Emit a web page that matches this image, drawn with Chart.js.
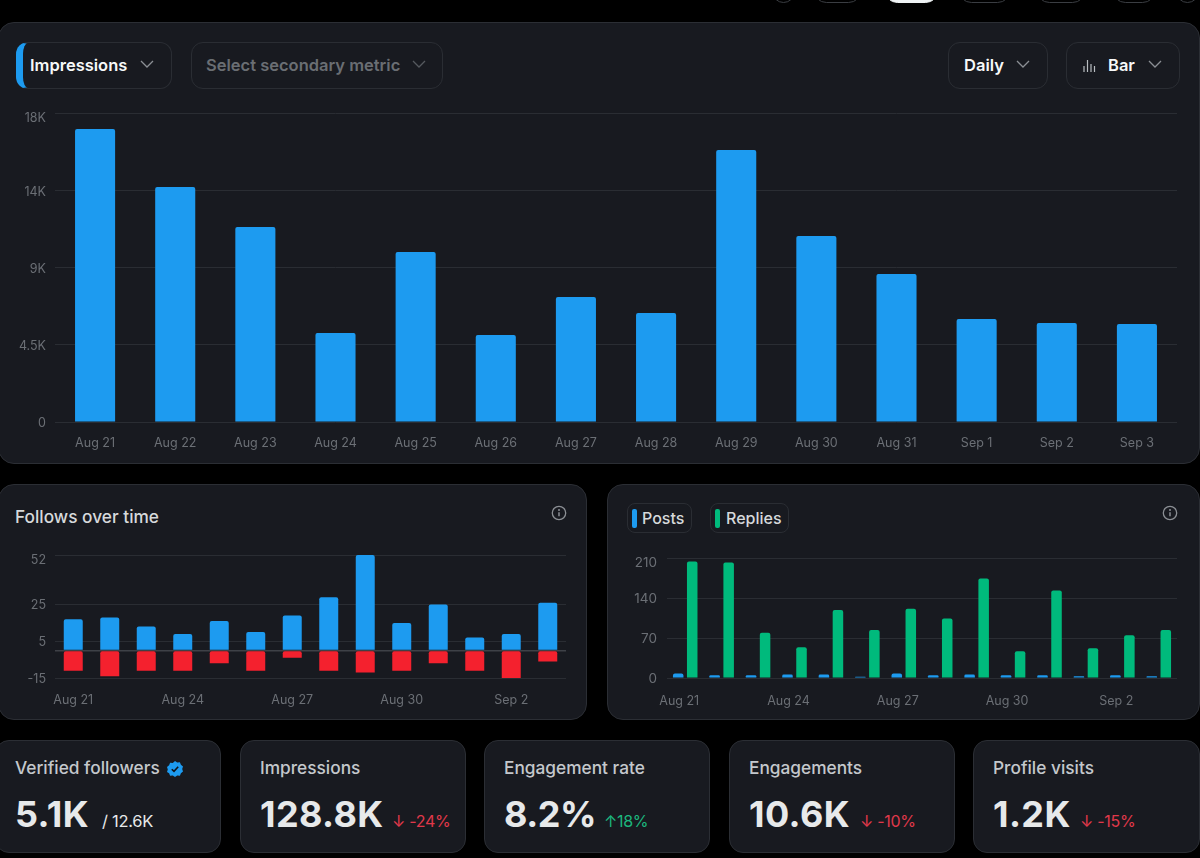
<!DOCTYPE html>
<html lang="en">
<head>
<meta charset="UTF-8">
<title>Account analytics</title>
<script src="https://cdn.jsdelivr.net/npm/chart.js@4"></script>
<style>
    html, body { margin: 0; padding: 0; background: #000; }
    body { width: 1200px; height: 858px; position: relative; overflow: hidden; font-family: Inter, sans-serif; color: #e7e9ea; }
    .panel { position: absolute; background: #181a20; border: 1px solid #2b2e34; box-sizing: border-box; border-radius: 16px; }
    .abs { position: absolute; }
    canvas { position: absolute; }
    .pill { position: absolute; top: -24px; height: 27px; border: 1px solid #3a3d42; border-radius: 14px; box-sizing: border-box; }
    .btn { position: absolute; top: 42px; height: 47px; box-sizing: border-box; border: 1px solid #2a2d33; border-radius: 12px; font-size: 16.5px; font-weight: 600; line-height: 45px; overflow: hidden; white-space: nowrap; }
    .btn span, .btn svg { position: absolute; }
    .chev { top: 17px; width: 14px; height: 9px; }
    .legend { position: absolute; top: 503px; height: 30px; box-sizing: border-box; border: 1px solid #2a2d33; border-radius: 8px; font-size: 16px; font-weight: 500; line-height: 28px; color: #d6d9db; }
    .legend i { position: absolute; left: 4px; top: 5px; width: 5px; height: 19px; border-radius: 2px; }
    .legend span { position: absolute; left: 14px; }
    .card { position: absolute; top: 740px; height: 113px; background: #181a20; border: 1px solid #2b2e34; box-sizing: border-box; border-radius: 14px; }
    .card .lbl { position: absolute; left: 19px; top: 16px; font-size: 17.3px; font-weight: 500; color: #c4c8cc; white-space: nowrap; }
    .card .val { position: absolute; left: 19px; top: 51px; font-size: 36px; font-weight: 700; letter-spacing: 0.4px; color: #e7e9ea; white-space: nowrap; }
    .card .delta { position: absolute; top: 70px; font-size: 16px; white-space: nowrap; letter-spacing: -0.3px; }
    .down { color: #e0384a; }
    .up { color: #1cb77e; }
</style>
</head>
<body>
<!-- cut off toolbar at the top edge -->
<div class="pill" style="left:772px;width:23px"></div>
<div class="pill" style="left:813px;width:49px"></div>
<div class="pill" style="left:884px;width:55px;background:#eff3f4;border-color:#eff3f4"></div>
<div class="pill" style="left:958px;width:53px"></div>
<div class="pill" style="left:1036px;width:50px"></div>
<div class="pill" style="left:1112px;width:44px"></div>
<div class="pill" style="left:1176px;width:23px"></div>

<div class="panel" style="left:-2px;top:22px;width:1202px;height:442px"></div>
<div class="panel" style="left:-2px;top:484px;width:589px;height:236px"></div>
<div class="panel" style="left:607px;top:484px;width:593px;height:236px"></div>

<canvas id="mainChart"></canvas>
<canvas id="followsChart"></canvas>
<canvas id="postsChart"></canvas>

<!-- Selectors -->
<div class="btn" style="left:16px;width:156px;color:#f7f9f9;border-left:7px solid #1d9bf0">
    <span style="left:7px">Impressions</span>
    <svg class="chev" style="left:117px" viewBox="0 0 14 9"><path d="M1 1l6 6 6-6" fill="none" stroke="#8b8f94" stroke-width="1.3"/></svg>
</div>
<div class="btn" style="left:191px;width:252px;color:#6a6e73">
    <span style="left:14px">Select secondary metric</span>
    <svg class="chev" style="left:220px" viewBox="0 0 14 9"><path d="M1 1l6 6 6-6" fill="none" stroke="#55595e" stroke-width="1.3"/></svg>
</div>
<div class="btn" style="left:948px;width:100px;color:#f7f9f9">
    <span style="left:15px">Daily</span>
    <svg class="chev" style="left:67px" viewBox="0 0 14 9"><path d="M1 1l6 6 6-6" fill="none" stroke="#8b8f94" stroke-width="1.3"/></svg>
</div>
<div class="btn" style="left:1066px;width:114px;color:#f7f9f9">
    <svg style="left:16px;top:16px;width:13px;height:14px" viewBox="0 0 13 14"><path d="M1 7v6M4.500 1v12M8 5v8M11.500 7v6" fill="none" stroke="#b8bcc0" stroke-width="1.200"/></svg>
    <span style="left:41px">Bar</span>
    <svg class="chev" style="left:81px" viewBox="0 0 14 9"><path d="M1 1l6 6 6-6" fill="none" stroke="#8b8f94" stroke-width="1.3"/></svg>
</div>

<!-- Small chart headers -->
<div class="abs" style="left:15px;top:506px;font-size:17.3px;font-weight:500;color:#d6d9db">Follows over time</div>
<svg class="abs" style="left:551px;top:505px" width="16" height="16" viewBox="0 0 16 16"><circle cx="8" cy="8" r="6.700" fill="none" stroke="#8b8f94" stroke-width="1.300"/><path d="M8 7.200v4" stroke="#8b8f94" stroke-width="1.500"/><circle cx="8" cy="5" r="1" fill="#8b8f94"/></svg>
<svg class="abs" style="left:1162px;top:505px" width="16" height="16" viewBox="0 0 16 16"><circle cx="8" cy="8" r="6.700" fill="none" stroke="#8b8f94" stroke-width="1.300"/><path d="M8 7.200v4" stroke="#8b8f94" stroke-width="1.500"/><circle cx="8" cy="5" r="1" fill="#8b8f94"/></svg>
<div class="legend" style="left:627px;width:65px"><i style="background:#1d9bf0"></i><span>Posts</span></div>
<div class="legend" style="left:710px;width:79px"><i style="background:#00ba7c"></i><span style="left:15px">Replies</span></div>

<!-- Stat cards -->
<div class="card" style="left:-5px;width:226px">
    <div class="lbl">Verified followers</div>
    <svg class="abs" style="left:170px;top:19px" width="18" height="18" viewBox="0 0 18 18"><path d="M9 1l2.200 1.500 2.700-.2 1 2.500 2.100 1.700-.8 2.500.8 2.500-2.100 1.700-1 2.500-2.700-.2L9 17l-2.200-1.500-2.700.2-1-2.500L1 12l.8-2.500L1 7l2.100-1.700 1-2.500 2.700.2z" fill="#1d9bf0"/><path d="M5.800 9.200l2.200 2.200 4.200-4.600" fill="none" stroke="#10141a" stroke-width="1.600"/></svg>
    <div class="val">5.1K</div>
    <div class="delta" style="left:106px;color:#e7e9ea;font-size:16.5px">/ 12.6K</div>
</div>
<div class="card" style="left:240px;width:226px">
    <div class="lbl">Impressions</div>
    <div class="val">128.8K</div>
    <div class="delta down" style="left:151px">↓ -24%</div>
</div>
<div class="card" style="left:484px;width:226px">
    <div class="lbl">Engagement rate</div>
    <div class="val" style="letter-spacing:-0.5px">8.2%</div>
    <div class="delta up" style="left:119px">↑18%</div>
</div>
<div class="card" style="left:729px;width:226px">
    <div class="lbl">Engagements</div>
    <div class="val">10.6K</div>
    <div class="delta down" style="left:130px">↓ -10%</div>
</div>
<div class="card" style="left:973px;width:227px">
    <div class="lbl">Profile visits</div>
    <div class="val">1.2K</div>
    <div class="delta down" style="left:106px">↓ -15%</div>
</div>

<script>
    const days = ['Aug 21', 'Aug 22', 'Aug 23', 'Aug 24', 'Aug 25', 'Aug 26', 'Aug 27', 'Aug 28', 'Aug 29', 'Aug 30', 'Aug 31', 'Sep 1', 'Sep 2', 'Sep 3'];
    const impressions = [17070, 13690, 11360, 5180, 9900, 5070, 7280, 6350, 15840, 10840, 8620, 6000, 5770, 5710];
    const impressionTicks = [0, 4500, 9000, 13500, 18000];
    const impressionTickLabels = ['0', '4.5K', '9K', '14K', '18K'];

    const followsGained = [17, 18, 13, 9, 16, 10, 19, 29, 52, 15, 25, 7, 9, 26];
    const followsLost = [-11, -14, -11, -11, -7, -11, -4, -11, -12, -11, -7, -11, -15, -6];
    const followTicks = [-15, 0, 5, 25, 52];

    const posts = [8, 5, 5, 6, 6, 2, 8, 5, 6, 5, 5, 3, 5, 3];
    const replies = [204, 202, 79, 54, 119, 84, 121, 104, 174, 47, 153, 52, 75, 84];
    const activityTicks = [0, 70, 140, 210];

    const BLUE = '#1d9bf0', GREEN = '#00ba7c', RED = '#f4212e';
    const GRID = '#2a2d33', ZERO = '#3e4147', TICK = '#6b6f75';

    // Places a canvas on the page and reserves exact room for the axes
    function place(id, box) {
        const el = document.getElementById(id);
        el.style.left = box.left + 'px';
        el.style.top = box.top + 'px';
        el.style.width = box.width + 'px';
        el.style.height = box.height + 'px';
        return el.getContext('2d');
    }

    function makeOptions(o) {
        return {
            responsive: false,
            animation: false,
            layout: { padding: { top: o.plotTop - o.box.top, right: o.box.left + o.box.width - o.plotRight, left: 0, bottom: 0 } },
            plugins: { legend: { display: false }, tooltip: { enabled: false } },
            scales: {
                x: {
                    stacked: !!o.stacked,
                    grid: { display: false },
                    border: { display: false },
                    afterFit: s => { s.height = o.box.top + o.box.height - o.plotBottom; s.paddingLeft = 0; s.paddingRight = 0; },
                    ticks: {
                        autoSkip: false, maxRotation: 0, color: TICK, padding: o.xPad, labelOffset: o.xOffset || 0,
                        font: { family: 'Inter', size: 12.5 },
                        callback: function (v, i) { return i % o.xEvery === 0 ? days[i] : ''; }
                    }
                },
                y: {
                    stacked: !!o.stacked,
                    min: o.min,
                    max: o.max,
                    afterBuildTicks: s => { s.ticks = o.ticks.map(v => ({ value: v })); },
                    afterFit: s => { s.width = o.plotLeft - o.box.left; s.paddingTop = 0; s.paddingBottom = 0; },
                    border: { display: false },
                    grid: {
                        drawTicks: false,
                        color: c => (c.tick && c.tick.value === 0 && o.zeroLine ? ZERO : GRID),
                        lineWidth: c => (c.tick && c.tick.value === 0 && o.zeroLine ? 1.5 : 1)
                    },
                    ticks: {
                        color: TICK, padding: o.yPad, labelOffset: o.yOffset,
                        font: { family: 'Inter', size: o.ySize || 12.5, lineHeight: 8 / (o.ySize || 12.5) },
                        callback: function (v) {
                            const text = o.label(v);
                            // the top label sits a little under its grid line
                            return v === o.max ? ['', text] : text;
                        }
                    }
                }
            }
        };
    }

    const mainBox = { left: 0, top: 100, width: 1200, height: 360 };
    new Chart(place('mainChart', mainBox), {
        type: 'bar',
        data: {
            labels: days,
            datasets: [{ data: impressions, backgroundColor: BLUE, borderRadius: 2, borderSkipped: 'bottom', categoryPercentage: 1, barPercentage: 0.5 }]
        },
        options: makeOptions({
            box: mainBox, plotLeft: 55, plotRight: 1177, plotTop: 113, plotBottom: 422,
            min: 0, max: 18000, ticks: impressionTicks,
            label: v => impressionTickLabels[impressionTicks.indexOf(v)],
            xEvery: 1, xPad: 6, yPad: 9, yOffset: 1.5
        })
    });

    const followsBox = { left: 0, top: 540, width: 590, height: 175 };
    new Chart(place('followsChart', followsBox), {
        type: 'bar',
        data: {
            labels: days,
            datasets: [
                { data: followsGained, backgroundColor: BLUE, borderRadius: 2, borderSkipped: 'bottom', categoryPercentage: 1, barPercentage: 0.52 },
                { data: followsLost, backgroundColor: RED, borderRadius: 2, borderSkipped: 'top', categoryPercentage: 1, barPercentage: 0.52 }
            ]
        },
        options: makeOptions({
            box: followsBox, plotLeft: 55, plotRight: 566, plotTop: 555, plotBottom: 678,
            min: -15, max: 52, ticks: followTicks, stacked: true, zeroLine: true,
            label: v => (v === 0 ? '' : String(v)),
            xEvery: 3, xPad: 7, yPad: 9, yOffset: 1
        })
    });

    const postsBox = { left: 610, top: 545, width: 585, height: 170 };
    new Chart(place('postsChart', postsBox), {
        type: 'bar',
        data: {
            labels: days,
            datasets: [
                { data: posts, backgroundColor: BLUE, borderRadius: 2, borderSkipped: 'bottom', categoryPercentage: 0.77, barPercentage: 0.75 },
                { data: replies, backgroundColor: GREEN, borderRadius: 2, borderSkipped: 'bottom', categoryPercentage: 0.77, barPercentage: 0.75 }
            ]
        },
        options: makeOptions({
            box: postsBox, plotLeft: 667, plotRight: 1177, plotTop: 558, plotBottom: 678,
            min: 0, max: 210, ticks: activityTicks,
            label: v => String(v),
            xEvery: 3, xPad: 8, yPad: 10, xOffset: -6, yOffset: 1, ySize: 13.5
        })
    });
</script>
</body>
</html>
